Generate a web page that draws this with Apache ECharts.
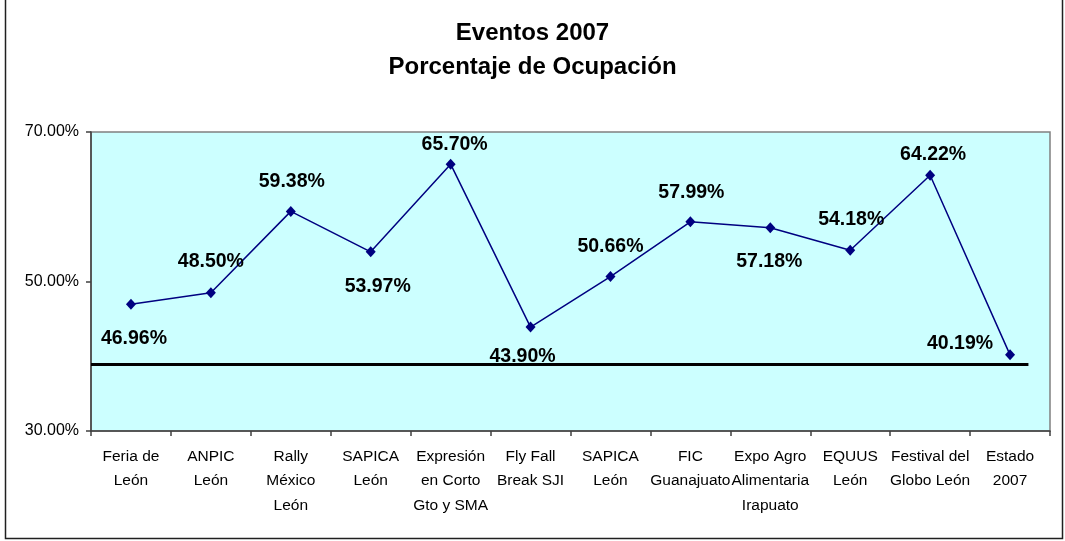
<!DOCTYPE html>
<html>
<head>
<meta charset="utf-8">
<title>Eventos 2007</title>
<script src="https://cdn.jsdelivr.net/npm/echarts@6/dist/echarts.min.js"></script>
<style>
  html, body { margin: 0; padding: 0; background: #ffffff; }
  #chart { width: 1065px; height: 541px; }
</style>
</head>
<body>
<div id="chart"></div>
<script>
// Event names (line breaks as shown under the axis)
const categories = [
  'Feria de\nLeón',
  'ANPIC\nLeón',
  'Rally\nMéxico\nLeón',
  'SAPICA\nLeón',
  'Expresión\nen Corto\nGto y SMA',
  'Fly Fall\nBreak SJI',
  'SAPICA\nLeón',
  'FIC\nGuanajuato',
  'Expo Agro\nAlimentaria\nIrapuato',
  'EQUUS\nLeón',
  'Festival del\nGlobo León',
  'Estado\n2007'
];

// Occupancy percentage per event
const occupancy = [46.96, 48.50, 59.38, 53.97, 65.70, 43.90, 50.66, 57.99, 57.18, 54.18, 64.22, 40.19];

// Value axis ticks
const yTicks = [30, 50, 70];

// Horizontal reference level and its extent (in category widths from the left edge)
const refLevel = 38.9;
const refExtent = [0, 11.73];

// Where each value label sits relative to its marker
const labelOffsets = [
  [3, 34], [0, -31], [1, -30], [7, 35], [4, -20], [-8, 30],
  [0, -30], [1, -29], [-1, 34], [1, -31], [3, -21], [-50, -11]
];

const FONT = '"Liberation Sans", Arial, sans-serif';

const chart = echarts.init(document.getElementById('chart'), null, { renderer: 'canvas' });

const lineData = occupancy.map((v, i) => ({
  value: v,
  label: { offset: labelOffsets[i] }
}));

const option = {
  backgroundColor: '#ffffff',
  animation: false,
  title: {
    text: 'Eventos 2007\nPorcentaje de Ocupación',
    left: 'center',
    top: 11,
    textStyle: {
      fontFamily: FONT,
      fontSize: 24,
      fontWeight: 'bold',
      color: '#000000',
      lineHeight: 34
    }
  },
  grid: {
    left: 91,
    right: 15,
    top: 132,
    bottom: 110,
    show: true,
    backgroundColor: '#CCFFFF',
    borderColor: '#808080',
    borderWidth: 1.5,
    containLabel: false
  },
  xAxis: [
    {
      type: 'category',
      data: categories,
      boundaryGap: true,
      axisLine: { show: true, lineStyle: { color: '#404040', width: 1.5 } },
      axisTick: { show: true, alignWithLabel: false, length: 5, lineStyle: { color: '#404040', width: 1.5 } },
      axisLabel: {
        interval: 0,
        margin: 13,
        fontFamily: FONT,
        fontSize: 15.5,
        lineHeight: 24.5,
        color: '#000000'
      },
      splitLine: { show: false }
    },
    {
      type: 'value',
      min: 0,
      max: categories.length,
      show: false
    }
  ],
  yAxis: {
    type: 'value',
    min: yTicks[0],
    max: yTicks[yTicks.length - 1],
    interval: yTicks[1] - yTicks[0],
    axisLine: { show: true, lineStyle: { color: '#404040', width: 1.5 } },
    axisTick: { show: true, length: 5, lineStyle: { color: '#404040', width: 1.5 } },
    axisLabel: {
      margin: 12,
      fontFamily: FONT,
      fontSize: 16,
      color: '#000000',
      formatter: v => v.toFixed(2) + '%'
    },
    splitLine: { show: false }
  },
  series: [
    {
      name: 'Nivel',
      type: 'line',
      xAxisIndex: 1,
      data: refExtent.map(x => [x, refLevel]),
      showSymbol: false,
      symbol: 'none',
      lineStyle: { color: '#000000', width: 3 },
      silent: true,
      z: 1
    },
    {
      name: 'Ocupación',
      type: 'line',
      data: lineData,
      symbol: 'diamond',
      symbolSize: [10, 11],
      itemStyle: { color: '#000080' },
      lineStyle: { color: '#000080', width: 1.5 },
      label: {
        show: true,
        position: 'inside',
        align: 'center',
        verticalAlign: 'middle',
        fontFamily: FONT,
        fontSize: 19.5,
        fontWeight: 'bold',
        color: '#000000',
        formatter: p => p.value.toFixed(2) + '%'
      },
      z: 3
    }
  ],
  graphic: [
    {
      type: 'rect',
      shape: { x: 5.5, y: -5, width: 1057, height: 543.5 },
      style: { fill: 'none', stroke: '#202020', lineWidth: 1.5 },
      silent: true,
      z: 100
    }
  ]
};

chart.setOption(option);
</script>
</body>
</html>
